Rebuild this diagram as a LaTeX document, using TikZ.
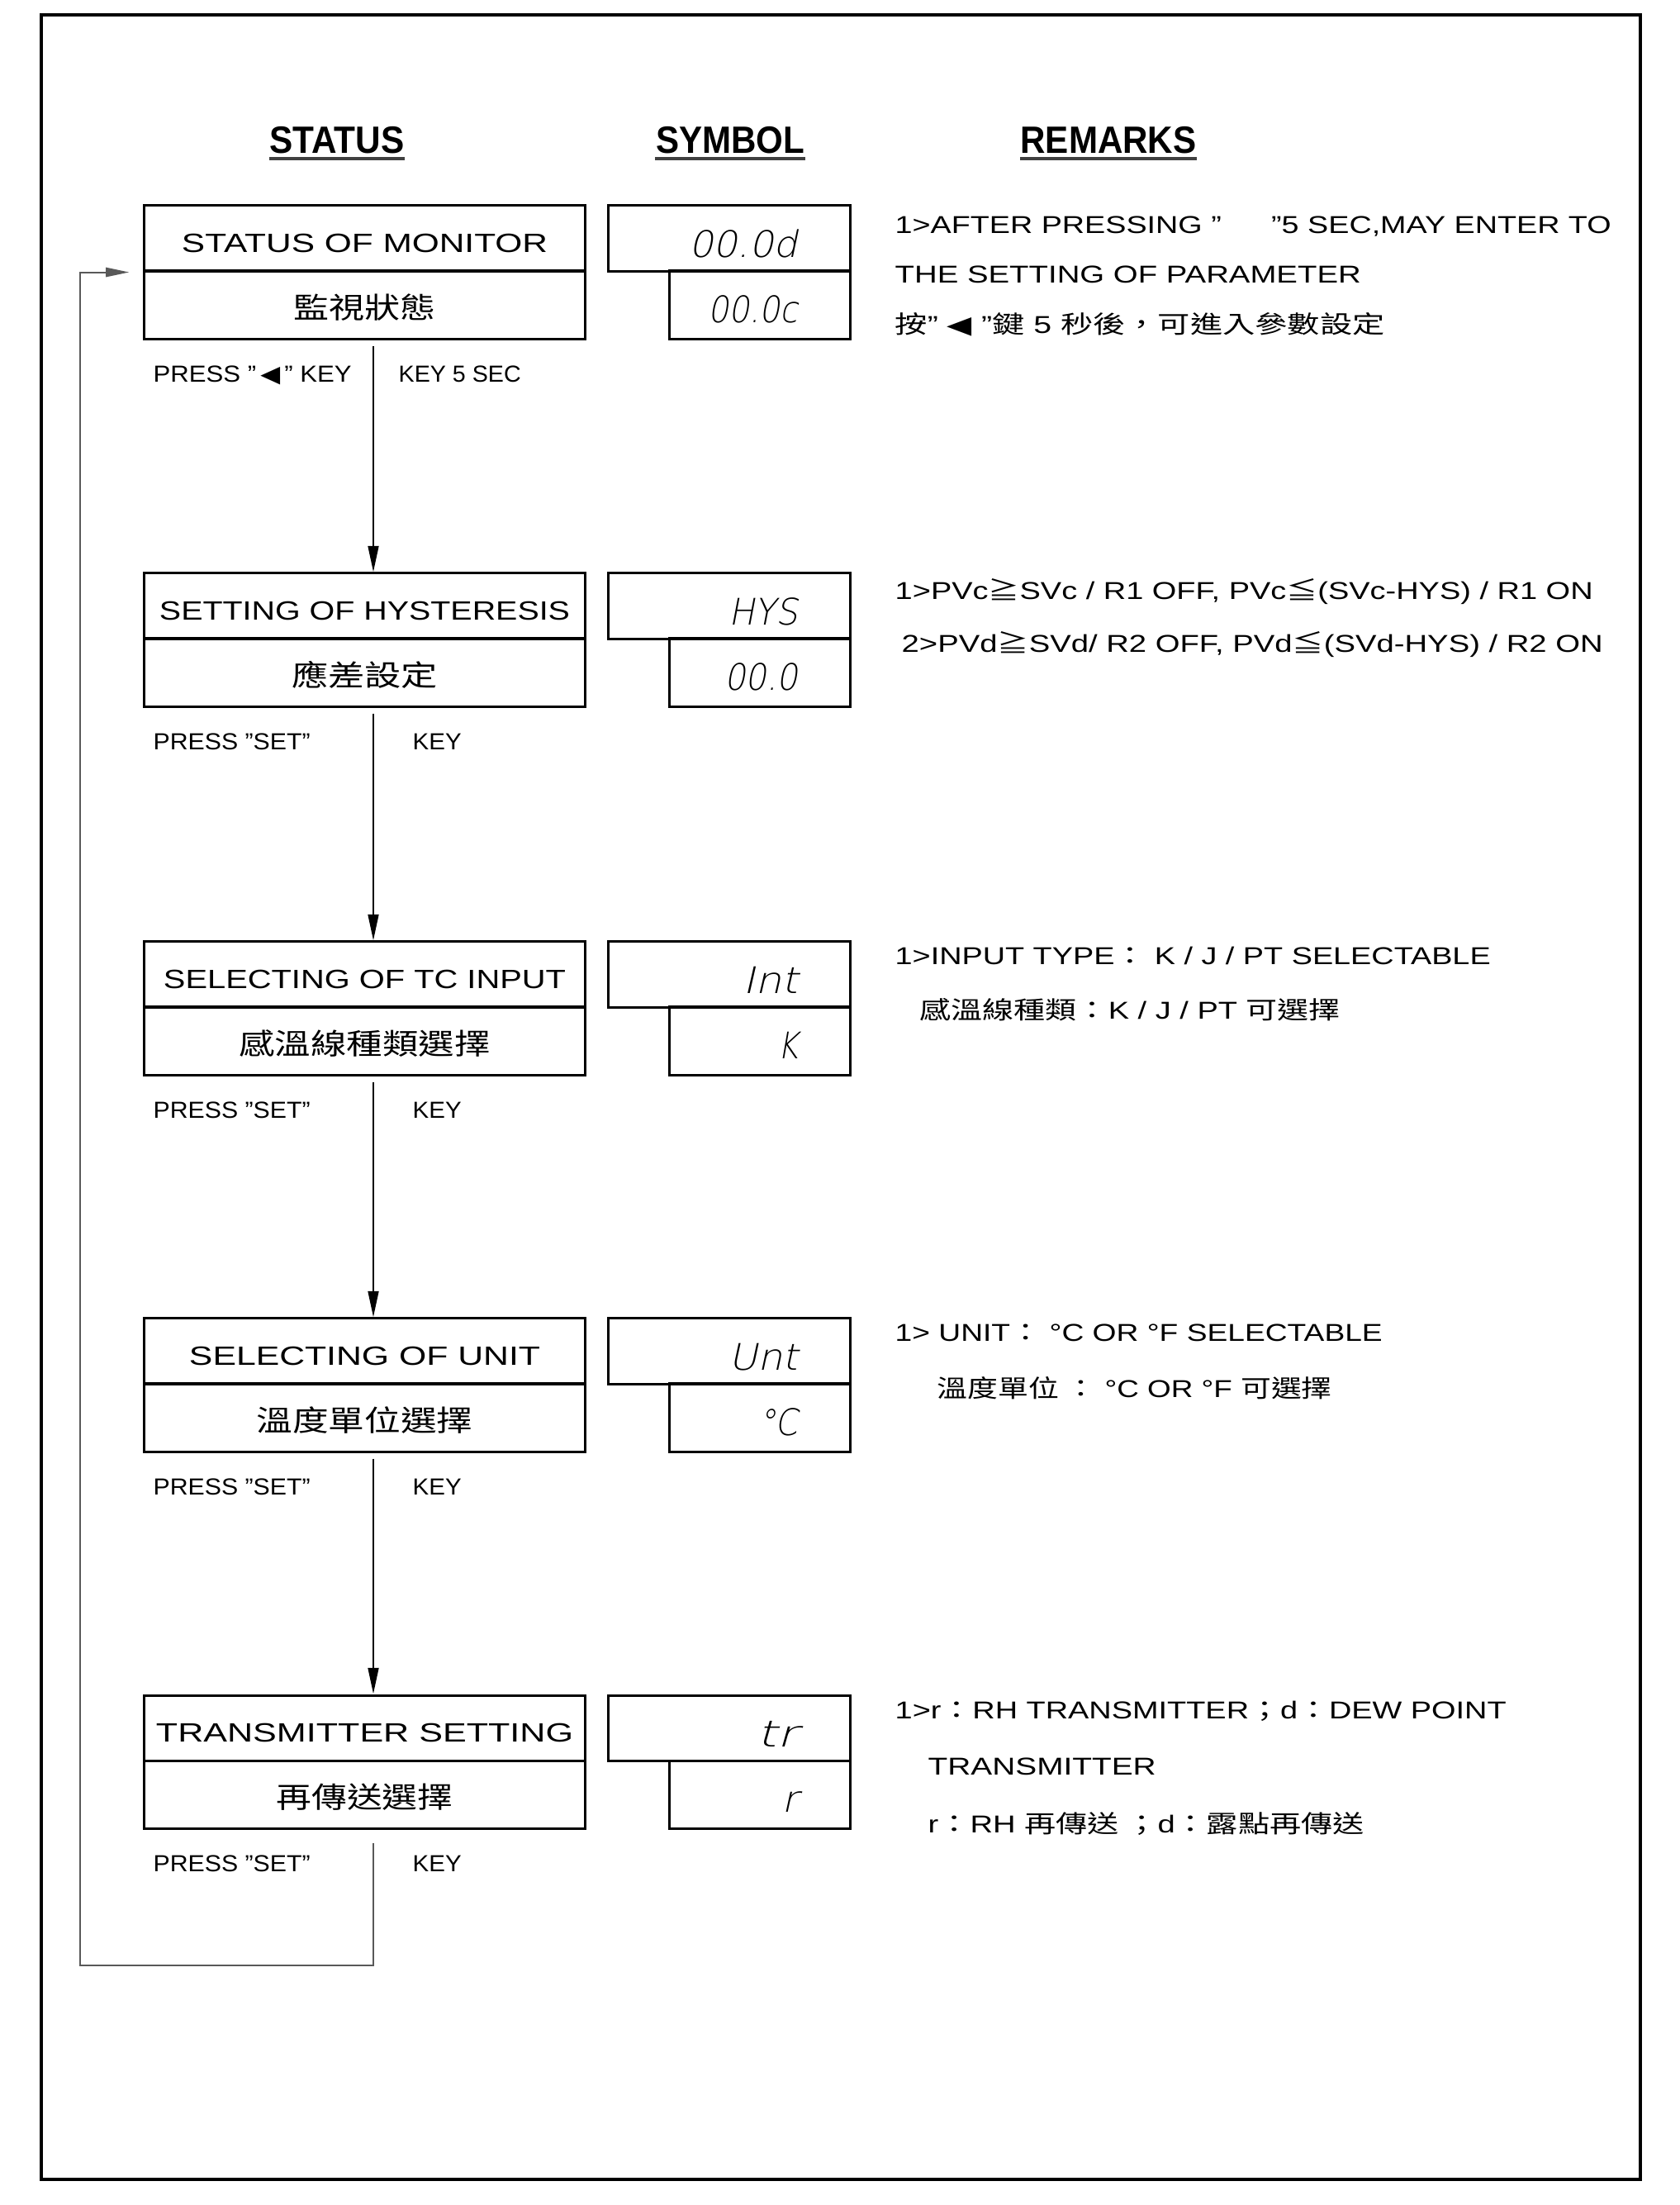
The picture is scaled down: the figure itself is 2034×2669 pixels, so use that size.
\documentclass[tikz,border=0pt]{standalone}
\usepackage{fontspec}
\usepackage{graphicx}
\setmainfont{Liberation Sans}
\newfontfamily\cjk{Noto Sans CJK TC}
\newfontfamily\dvs{DejaVu Sans}
\newfontfamily\segf{DejaVu Sans ExtraLight}[FakeSlant=0.2]
\usetikzlibrary{arrows.meta}
\newlength\pxu
\setlength\pxu{0.01cm}
\newcommand\fitw[2]{\resizebox{#1\pxu}{\height}{#2}}
\newcommand\fpt[1]{\fontsize{#1pt}{#1pt}\selectfont}
\tikzset{
  hdr/.style={inner sep=0, anchor=base, font=\fpt{13.1}\bfseries},
  ul/.style={line width=0.04cm, black!75},
  stt/.style={draw, line width=0.03cm, minimum width=5.33cm, minimum height=0.79cm,
    inner sep=0, text height=0.33cm, text depth=0cm, font=\fpt{9.1}},
  stb/.style={stt, minimum height=0.82cm, font=\fpt{10}\cjk},
  symt/.style={draw, line width=0.03cm, minimum width=2.92cm, minimum height=0.79cm, inner sep=0},
  symb/.style={draw, line width=0.03cm, minimum width=2.18cm, minimum height=0.82cm, inner sep=0},
  seg/.style={inner sep=0, anchor=base east, font=\fpt{12.6}\segf},
  lbl/.style={inner sep=0, anchor=base west, font=\fpt{8}},
  rmk/.style={inner sep=0, anchor=base west, font=\fpt{8.4}},
  flow/.style={line width=0.028cm, -{Triangle[length=9pt,width=3.6pt]}, shorten <=0.07cm},
  loopl/.style={line width=0.02cm, black!65, -{Triangle[length=8pt,width=3.2pt]},
    shorten <=0.16cm, shorten >=0.17cm},
  frame/.style={line width=0.035cm}
}
\begin{document}
\begin{tikzpicture}[x=0.01cm,y=-0.01cm]
\useasboundingbox (0,0) rectangle (2034,2669);
\draw[frame] (50,18) rectangle (1986,2638);

% headers
\node[hdr] (hS) at (408,185) {\fitw{163}{STATUS}};
\node[hdr] (hY) at (884,185) {\fitw{180}{SYMBOL}};
\node[hdr] (hR) at (1342,185) {\fitw{213}{REMARKS}};
\draw[ul] ([yshift=-0.065cm]hS.base west) -- ([yshift=-0.065cm]hS.base east);
\draw[ul] ([yshift=-0.065cm]hY.base west) -- ([yshift=-0.065cm]hY.base east);
\draw[ul] ([yshift=-0.065cm]hR.base west) -- ([yshift=-0.065cm]hR.base east);

% row 1 (T=249)
\node[stt] (s1t) at (441.5,288.5) {\fitw{443}{STATUS OF MONITOR}};
\node[stb] (s1b) at (441.5,369) {\fitw{172}{監視狀態}};
\node[symt] (y1t) at (883,288.5) {};
\node[symb] (y1b) at (920,369) {};
\node[seg] (g1t) at (967,311) {\fitw{132}{00.0d}};
\node[seg] (g1b) at (967,390) {\fitw{109}{00.0c}};
\node[lbl] (p1) at (185,462) {\fitw{240}{PRESS "\,{\dvs ◀}\," KEY}};
\node[lbl] (k1) at (482,462) {\fitw{148}{KEY 5 SEC}};

% row 2 (T=694)
\node[stt] (s2t) at (441.5,733.5) {\fitw{497}{SETTING OF HYSTERESIS}};
\node[stb] (s2b) at (441.5,814) {\fitw{177}{應差設定}};
\node[symt] (y2t) at (883,733.5) {};
\node[symb] (y2b) at (920,814) {};
\node[seg] (g2t) at (967,756) {\fitw{84}{HYS}};
\node[seg] (g2b) at (967,835) {\fitw{89}{00.0}};
\node[lbl] (p2) at (185,907) {\fitw{190}{PRESS "SET"}};
\node[lbl] (k2) at (499,907) {\fitw{59}{KEY}};

% row 3 (T=1140)
\node[stt] (s3t) at (441.5,1179.5) {\fitw{487}{SELECTING OF TC INPUT}};
\node[stb] (s3b) at (441.5,1260) {\fitw{304}{感溫線種類選擇}};
\node[symt] (y3t) at (883,1179.5) {};
\node[symb] (y3b) at (920,1260) {};
\node[seg] (g3t) at (967,1202) {\fitw{67}{Int}};
\node[seg] (g3b) at (967,1281) {\fitw{25}{K}};
\node[lbl] (p3) at (185,1353) {\fitw{190}{PRESS "SET"}};
\node[lbl] (k3) at (499,1353) {\fitw{59}{KEY}};

% row 4 (T=1596)
\node[stt] (s4t) at (441.5,1635.5) {\fitw{425}{SELECTING OF UNIT}};
\node[stb] (s4b) at (441.5,1716) {\fitw{262}{溫度單位選擇}};
\node[symt] (y4t) at (883,1635.5) {};
\node[symb] (y4b) at (920,1716) {};
\node[seg] (g4t) at (967,1658) {\fitw{84}{Unt}};
\node[seg] (g4b) at (967,1737) {\fitw{47}{°C}};
\node[lbl] (p4) at (185,1809) {\fitw{190}{PRESS "SET"}};
\node[lbl] (k4) at (499,1809) {\fitw{59}{KEY}};

% row 5 (T=2052)
\node[stt] (s5t) at (441.5,2091.5) {\fitw{505}{TRANSMITTER SETTING}};
\node[stb] (s5b) at (441.5,2172) {\fitw{214}{再傳送選擇}};
\node[symt] (y5t) at (883,2091.5) {};
\node[symb] (y5b) at (920,2172) {};
\node[seg] (g5t) at (967,2114) {\fitw{50}{tr}};
\node[seg] (g5b) at (967,2193) {\fitw{20}{r}};
\node[lbl] (p5) at (185,2265) {\fitw{190}{PRESS "SET"}};
\node[lbl] (k5) at (499,2265) {\fitw{59}{KEY}};

% remarks
\node[rmk] (r11) at (1083,282) {\fitw{867}{1>AFTER PRESSING "\hspace{1.6em}"5 SEC,MAY ENTER TO}};
\node[rmk] (r12) at (1083,342) {\fitw{564}{THE SETTING OF PARAMETER}};
\node[rmk] (r13) at (1083,403) {\fitw{593}{{\cjk 按}" {\dvs ◀} "{\cjk 鍵} 5 {\cjk 秒後，可進入參數設定}}};
\node[rmk] (r21) at (1083,725) {\fitw{845}{1>PVc{\cjk ≧}SVc / R1 OFF, PVc{\cjk ≦}(SVc-HYS) / R1 ON}};
\node[rmk] (r22) at (1091,789) {\fitw{849}{2>PVd{\cjk ≧}SVd/ R2 OFF, PVd{\cjk ≦}(SVd-HYS) / R2 ON}};
\node[rmk] (r31) at (1083,1167) {\fitw{721}{1>INPUT TYPE{\cjk ：} K / J / PT SELECTABLE}};
\node[rmk] (r32) at (1113,1233) {\fitw{509}{{\cjk 感溫線種類：}K / J / PT {\cjk 可選擇}}};
\node[rmk] (r41) at (1083,1623) {\fitw{590}{1> UNIT{\cjk ：} °C OR °F SELECTABLE}};
\node[rmk] (r42) at (1134,1691) {\fitw{478}{{\cjk 溫度單位 ：} °C OR °F {\cjk 可選擇}}};
\node[rmk] (r51) at (1083,2080) {\fitw{740}{1>r{\cjk ：}RH TRANSMITTER{\cjk ；}d{\cjk ：}DEW POINT}};
\node[rmk] (r52) at (1123,2148) {\fitw{276}{TRANSMITTER}};
\node[rmk] (r53) at (1123,2218) {\fitw{528}{r{\cjk ：}RH {\cjk 再傳送 ；}d{\cjk ：露點再傳送}}};

% connectors
\coordinate (ax) at (452,0);
\coordinate (lpc) at (97,2379);
\draw[flow] (s1b.south -| ax) -- (s2t.north -| ax);
\draw[flow] (s2b.south -| ax) -- (s3t.north -| ax);
\draw[flow] (s3b.south -| ax) -- (s4t.north -| ax);
\draw[flow] (s4b.south -| ax) -- (s5t.north -| ax);
\draw[loopl] (s5b.south -| ax) |- (lpc) |- (s1t.south west);
\end{tikzpicture}
\end{document}
